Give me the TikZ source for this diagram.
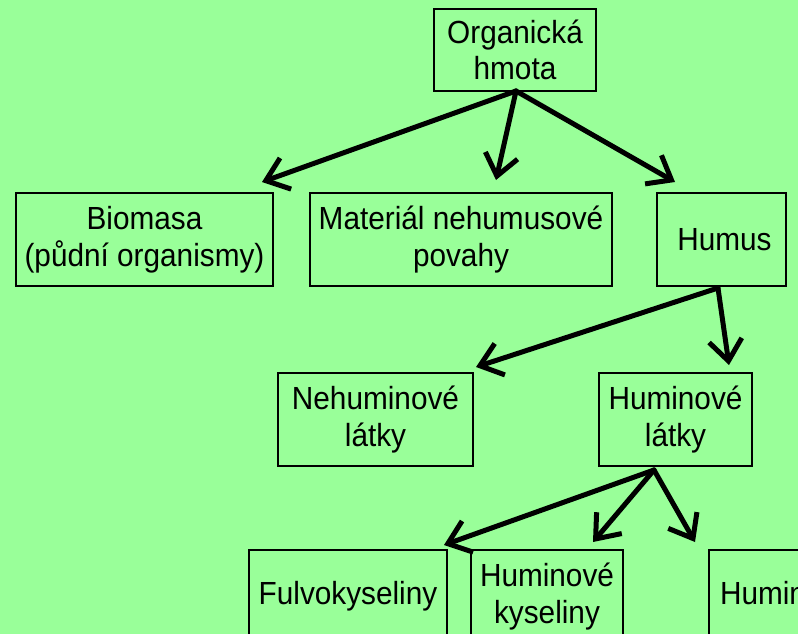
\documentclass[tikz,border=0pt]{standalone}
\usepackage{fontspec}
\setmainfont[FakeStretch=0.93]{Liberation Sans}
\usetikzlibrary{arrows.meta}
\definecolor{bg}{RGB}{153,255,153}
\tikzset{
  box/.style={draw=black, line width=2.8pt, inner sep=0pt, align=center,
    font=\fontsize{32}{36.5}\selectfont, text=black},
  arr/.style={line width=5pt, -{Straight Barb[length=21pt,width=33pt]}, line cap=round}
}
\begin{document}
\begin{tikzpicture}[x=1pt,y=-1pt]
\useasboundingbox (0,0) rectangle (798,634);
\fill[bg] (0,0) rectangle (798,634);
\clip (0,0) rectangle (798,634);
% nodes
\node[box, minimum width=162pt, minimum height=82pt] (org) at (515,50) {Organická\\hmota};
\node[box, minimum width=257pt, minimum height=93pt] (bio) at (144.5,239.5) {Biomasa\\(půdní organismy)};
\node[box, minimum width=302pt, minimum height=93pt] (mat) at (461,239.5) {Materiál nehumusové\\povahy};
\node[box, minimum width=129pt, minimum height=93pt] (hum) at (721.5,239.5) {\hspace*{6pt}Humus};
\node[box, minimum width=195pt, minimum height=93pt] (neh) at (375.5,419.5) {Nehuminové\\látky};
\node[box, minimum width=153pt, minimum height=93pt] (hml) at (675.5,419.5) {Huminové\\látky};
\node[box, minimum width=198pt, minimum height=93pt] (ful) at (348,596.5) {Fulvokyseliny};
\node[box, minimum width=152pt, minimum height=93pt] (hky) at (547,596.5) {Huminové\\kyseliny};
\node[box, minimum width=123pt, minimum height=93pt] (hny) at (770.5,596.5) {Huminy};
% arrow start / end points
\coordinate (o1) at (516,91);
\coordinate (t1) at (262,182);
\coordinate (t2) at (496,180);
\coordinate (t3) at (675,182);
\coordinate (o2) at (718,288);
\coordinate (t4) at (476,367);
\coordinate (t5) at (729,365);
\coordinate (o3) at (654,470);
\coordinate (t6) at (444,545);
\coordinate (t7) at (593,542);
\coordinate (t8) at (695,542);
% connectors
\draw[arr] (o1) -- (t1);
\draw[arr] (o1) -- (t2);
\draw[arr] (o1) -- (t3);
\draw[arr] (o2) -- (t4);
\draw[arr] (o2) -- (t5);
\draw[arr] (o3) -- (t6);
\draw[arr] (o3) -- (t7);
\draw[arr] (o3) -- (t8);
\end{tikzpicture}
\end{document}
